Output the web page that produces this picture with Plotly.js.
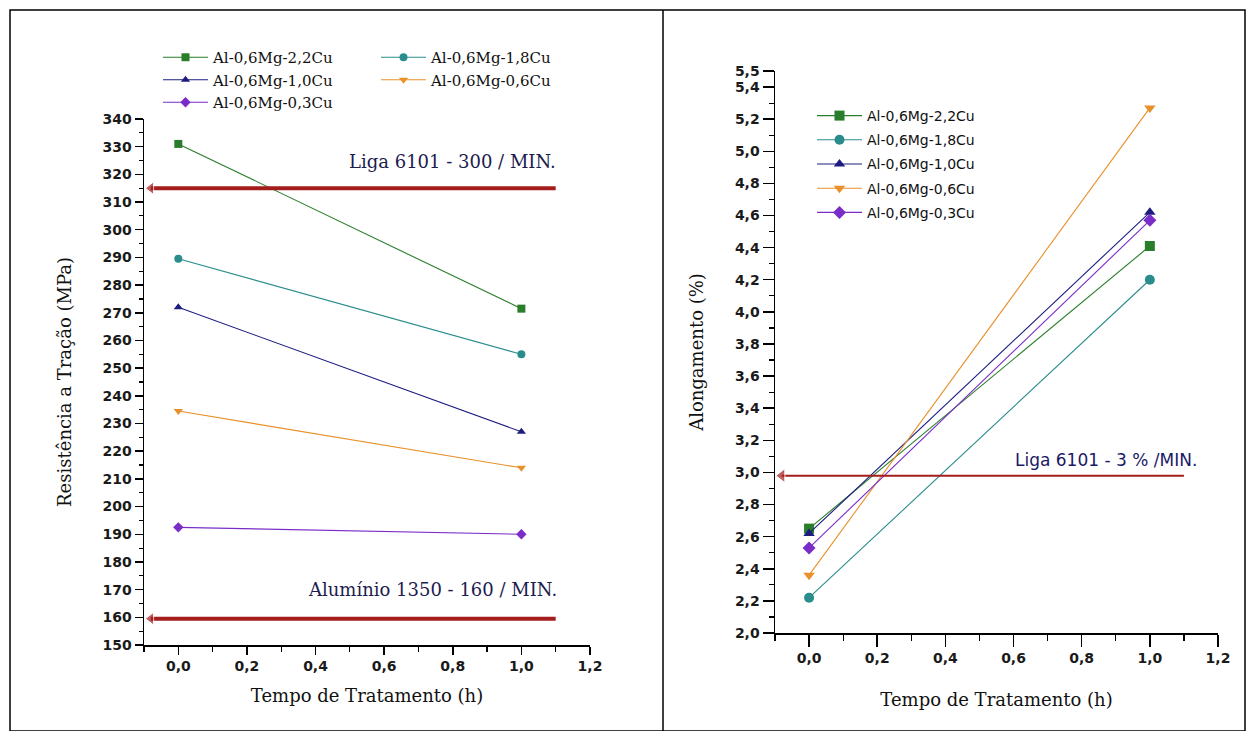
<!DOCTYPE html>
<html>
<head>
<meta charset="utf-8">
<script src="https://cdn.plot.ly/plotly-3.0.1.min.js"></script>
<style>
html,body{margin:0;padding:0;background:#fff;}
#chart{width:1256px;height:731px;}
</style>
</head>
<body>
<div id="chart"></div>
<script>
// ---------- data ----------
const timeH = [0, 1];
const alloyNames = ['Al-0,6Mg-2,2Cu', 'Al-0,6Mg-1,8Cu', 'Al-0,6Mg-1,0Cu', 'Al-0,6Mg-0,6Cu', 'Al-0,6Mg-0,3Cu'];

// Resistência à tração (MPa)
const tensile22 = [331, 271.5];
const tensile18 = [289.5, 255];
const tensile10 = [272, 227];
const tensile06 = [234.5, 214];
const tensile03 = [192.5, 190];

// Alongamento (%)
const elong22 = [2.65, 4.41];
const elong18 = [2.22, 4.20];
const elong10 = [2.62, 4.62];
const elong06 = [2.36, 5.27];
const elong03 = [2.53, 4.57];

// Reference limits
const refSpanX = [-0.08, 1.1];
const refTensile6101 = 315;
const refTensile1350 = 159.5;
const refElong6101 = 2.98;
const refTexts = ['Liga 6101 - 300 / MIN.', 'Alumínio 1350 - 160 / MIN.', 'Liga 6101 - 3 % /MIN.'];

// Tick labels
const xTickVals = [0, 0.2, 0.4, 0.6, 0.8, 1.0, 1.2];
const xTickText = ['0,0', '0,2', '0,4', '0,6', '0,8', '1,0', '1,2'];
const leftYTickVals = [150,160,170,180,190,200,210,220,230,240,250,260,270,280,290,300,310,320,330,340];
const leftYTickText = ['150','160','170','180','190','200','210','220','230','240','250','260','270','280','290','300','310','320','330','340'];
const rightYTickVals = [2.0,2.2,2.4,2.6,2.8,3.0,3.2,3.4,3.6,3.8,4.0,4.2,4.4,4.6,4.8,5.0,5.2,5.4,5.5];
const rightYTickText = ['2,0','2,2','2,4','2,6','2,8','3,0','3,2','3,4','3,6','3,8','4,0','4,2','4,4','4,6','4,8','5,0','5,2','5,4','5,5'];

// ---------- styles ----------
const colors = ['#2a7d2a', '#2a8c8c', '#1c1c80', '#e8902a', '#7a2cc8'];
const symbols = ['square', 'circle', 'triangle-up', 'triangle-down', 'diamond'];
const refColor = '#a31d1d';
const tickFont = {family: 'DejaVu Sans', size: 14, color: '#1a1a1a', weight: 'bold'};
const serifTitle = {family: 'DejaVu Serif', size: 18, color: '#111'};

const W = 1256, H = 731;
const px = v => v / W;
const py = v => (H - v) / H;

const tensileSeries = [tensile22, tensile18, tensile10, tensile06, tensile03];
const elongSeries = [elong22, elong18, elong10, elong06, elong03];
const leftLegendOf = ['legend', 'legend2', 'legend', 'legend2', 'legend'];

const traces = [];
tensileSeries.forEach((ys, i) => {
  traces.push({
    x: timeH, y: ys, type: 'scatter', mode: 'lines+markers', name: alloyNames[i],
    xaxis: 'x', yaxis: 'y', legend: leftLegendOf[i], legendgroup: 'L' + i,
    line: {color: colors[i], width: 1.1},
    marker: {symbol: symbols[i], size: 8, color: colors[i]}
  });
});
elongSeries.forEach((ys, i) => {
  traces.push({
    x: timeH, y: ys, type: 'scatter', mode: 'lines+markers', name: alloyNames[i],
    xaxis: 'x2', yaxis: 'y2', legend: 'legend3', legendgroup: 'R' + i,
    line: {color: colors[i], width: 1.1},
    marker: {symbol: symbols[i], size: 10, color: colors[i]}
  });
});
// reference lines with arrow heads
[refTensile6101, refTensile1350].forEach(v => {
  traces.push({
    x: refSpanX, y: [v, v], type: 'scatter', mode: 'lines+markers', showlegend: false,
    xaxis: 'x', yaxis: 'y', hoverinfo: 'skip',
    line: {color: refColor, width: 4},
    marker: {symbol: ['triangle-left', 'circle'], size: [11, 0], color: refColor}
  });
});
traces.push({
  x: refSpanX, y: [refElong6101, refElong6101], type: 'scatter', mode: 'lines+markers', showlegend: false,
  xaxis: 'x2', yaxis: 'y2', hoverinfo: 'skip',
  line: {color: refColor, width: 2},
  marker: {symbol: ['triangle-left', 'circle'], size: [12, 0], color: refColor}
});

function xAxis(domain, anchor, tlen, mlen, standoff) {
  return {
    domain: domain, anchor: anchor,
    range: [-0.1, 1.2], tickmode: 'array', tickvals: xTickVals, ticktext: xTickText,
    ticks: 'outside', ticklen: tlen, tickwidth: 1.5, tickcolor: '#000',
    showline: true, linecolor: '#000', linewidth: 1.5, showgrid: false, zeroline: false,
    tickfont: tickFont, fixedrange: true,
    minor: {tickmode: 'linear', tick0: -0.1, dtick: 0.1, ticks: 'outside', ticklen: mlen, tickwidth: 1.2, tickcolor: '#000', showgrid: false},
    title: {text: 'Tempo de Tratamento (h)', font: serifTitle, standoff: standoff}
  };
}

const legendBase = {
  orientation: 'v', bgcolor: 'rgba(0,0,0,0)', borderwidth: 0,
  xanchor: 'left', yanchor: 'top', itemwidth: 45, tracegroupgap: 0,
  itemclick: false, itemdoubleclick: false
};

const layout = {
  width: W, height: H,
  margin: {l: 0, r: 0, t: 0, b: 0},
  paper_bgcolor: '#fff', plot_bgcolor: 'rgba(0,0,0,0)',
  showlegend: true,
  xaxis: xAxis([px(144), px(590)], 'y', 8, 5, 16),
  yaxis: {
    domain: [py(645), py(119)], anchor: 'x', range: [150, 340],
    tickmode: 'array', tickvals: leftYTickVals, ticktext: leftYTickText,
    ticks: 'outside', ticklen: 8, tickwidth: 1.5, tickcolor: '#000',
    showline: true, linecolor: '#000', linewidth: 1.5, showgrid: false, zeroline: false,
    tickfont: tickFont, fixedrange: true,
    minor: {tickmode: 'linear', tick0: 150, dtick: 5, ticks: 'outside', ticklen: 4, tickwidth: 1.2, tickcolor: '#000', showgrid: false},
    title: {text: 'Resistência a Tração (MPa)', font: serifTitle, standoff: 26}
  },
  xaxis2: xAxis([px(775), px(1218)], 'y2', 12, 6, 28),
  yaxis2: {
    domain: [py(633), py(71)], anchor: 'x2', range: [2.0, 5.5],
    tickmode: 'array', tickvals: rightYTickVals, ticktext: rightYTickText,
    ticks: 'outside', ticklen: 11, tickwidth: 1.5, tickcolor: '#000',
    showline: true, linecolor: '#000', linewidth: 1.5, showgrid: false, zeroline: false,
    tickfont: tickFont, fixedrange: true,
    minor: {tickmode: 'linear', tick0: 2.0, dtick: 0.1, ticks: 'outside', ticklen: 5, tickwidth: 1.2, tickcolor: '#000', showgrid: false},
    title: {text: 'Alongamento (%)', font: serifTitle, standoff: 26}
  },
  legend: Object.assign({}, legendBase, {x: px(158), y: py(41), font: {family: 'DejaVu Serif', size: 15, color: '#111'}}),
  legend2: Object.assign({}, legendBase, {x: px(376), y: py(41), font: {family: 'DejaVu Serif', size: 15, color: '#111'}}),
  legend3: Object.assign({}, legendBase, {x: px(812), y: py(100), tracegroupgap: 3, font: {family: 'DejaVu Sans', size: 14, color: '#111'}}),
  annotations: [
    {xref: 'x', yref: 'y', x: 0.80, y: 324.5, text: refTexts[0], showarrow: false,
     font: {family: 'DejaVu Serif', size: 18, color: '#1c1c4e'}},
    {xref: 'x', yref: 'y', x: 0.74, y: 170, text: refTexts[1], showarrow: false,
     font: {family: 'DejaVu Serif', size: 18, color: '#1c1c4e'}},
    {xref: 'x2', yref: 'y2', x: 0.87, y: 3.08, text: refTexts[2], showarrow: false,
     font: {family: 'DejaVu Sans', size: 17, color: '#1a1a66'}}
  ],
  shapes: [
    {type: 'rect', xref: 'paper', yref: 'paper', x0: px(10), x1: px(1245), y0: py(731), y1: py(10), line: {color: '#000', width: 1.5}},
    {type: 'line', xref: 'paper', yref: 'paper', x0: px(663), x1: px(663), y0: py(731), y1: py(10), line: {color: '#000', width: 1.5}}
  ]
};

Plotly.newPlot('chart', traces, layout, {displayModeBar: false, staticPlot: true});
</script>
</body>
</html>
